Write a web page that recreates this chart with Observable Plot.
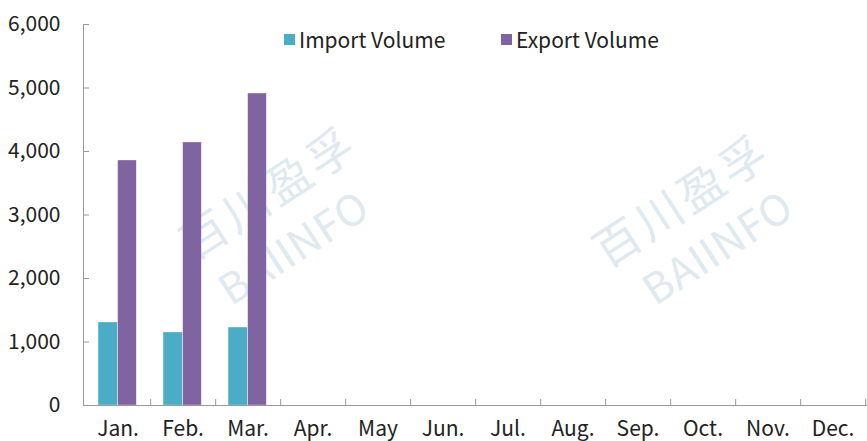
<!DOCTYPE html>
<html>
<head>
<meta charset="utf-8">
<script src="https://cdn.jsdelivr.net/npm/d3@7"></script>
<script src="https://cdn.jsdelivr.net/npm/@observablehq/plot@0.6"></script>
<style>
  html, body { margin: 0; padding: 0; background: #fff; }
  #wrap { position: relative; width: 867px; height: 441px; overflow: hidden; font-family: "Noto Sans CJK SC", "Noto Sans", sans-serif; }
  .legend { position: absolute; top: 24px; left: 0; font-size: 21px; color: #222; }
  .li { position: absolute; white-space: nowrap; display: flex; align-items: center; }
  .sw { width: 11px; height: 11px; display: inline-block; margin-right: 4px; }
  .wm { position: absolute; color: #dfe9f0; white-space: nowrap; transform-origin: center center; pointer-events: none; }
  #wrap svg { position: relative; }
</style>
</head>
<body>
<div id="wrap"></div>
<script>
const months = ["Jan.", "Feb.", "Mar.", "Apr.", "May", "Jun.", "Jul.", "Aug.", "Sep.", "Oct.", "Nov.", "Dec."];
const seriesNames = ["Import Volume", "Export Volume"];
const seriesColors = ["#4BACC6", "#8064A2"];
const importVolume = [1307, 1150, 1228];
const exportVolume = [3858, 4142, 4913];
const yTicks = [0, 1000, 2000, 3000, 4000, 5000, 6000];

const W = 867, H = 441;
const mL = 83, mR = 0;
const bw = (W - mL - mR) / months.length;

const importRows = importVolume.map((v, i) => ({month: months[i], value: v}));
const exportRows = exportVolume.map((v, i) => ({month: months[i], value: v}));

const font = "Noto Sans CJK SC, Noto Sans, sans-serif";

const chart = Plot.plot({
  width: W,
  height: H,
  marginLeft: mL,
  marginRight: mR,
  marginTop: 24,
  marginBottom: 36,
  style: {fontFamily: font, fontSize: "21px", color: "#222", background: "transparent"},
  x: {type: "band", domain: months, padding: 0, label: null},
  y: {domain: [0, 6000], label: null},
  marks: [
    Plot.barY(importRows, {x: "month", y: "value", fill: seriesColors[0], insetLeft: bw * 0.2, insetRight: bw * 0.5, stroke: "#ffffff", strokeOpacity: 0.5, strokeWidth: 0.6}),
    Plot.barY(exportRows, {x: "month", y: "value", fill: seriesColors[1], insetLeft: bw * 0.5, insetRight: bw * 0.21, stroke: "#ffffff", strokeOpacity: 0.5, strokeWidth: 0.6}),
    Plot.ruleY([0], {stroke: "#999"}),
    Plot.frame({anchor: "left", stroke: "#999"}),
    Plot.axisY({ticks: yTicks, tickSize: 6, dx: 6, stroke: "#999", tickFormat: () => "", label: null}),
    Plot.axisY({ticks: yTicks, tickFormat: d3.format(","), tickSize: 0, tickPadding: 23, fill: "#222", fontSize: 21, label: null}),
    Plot.axisX({tickSize: 6, dx: bw / 2, dy: -6, stroke: "#999", tickFormat: () => "", anchor: "bottom", label: null}),
    Plot.axisX({tickSize: 0, tickPadding: 16, fill: "#222", fontSize: 21, anchor: "bottom", label: null})
  ]
});

const wrap = document.getElementById("wrap");

// watermark
const wmTexts = [["百川盈孚", 46, 267, 190], ["BAIINFO", 42, 292, 245], ["百川盈孚", 46, 680, 198], ["BAIINFO", 42, 716, 245]];
wmTexts.forEach(([t, fs, cx, cy]) => {
  const d = document.createElement("div");
  d.className = "wm";
  d.textContent = t;
  d.style.fontSize = fs + "px";
  d.style.left = cx + "px";
  d.style.top = cy + "px";
  d.style.transform = "translate(-50%, -50%) rotate(-33deg)";
  d.style.letterSpacing = t === "BAIINFO" ? "1px" : "4px";
  wrap.appendChild(d);
});

wrap.appendChild(chart);

// legend
const legend = document.createElement("div");
legend.className = "legend";
const legendX = [284, 501];
seriesNames.forEach((name, i) => {
  const item = document.createElement("div");
  item.className = "li";
  item.style.left = legendX[i] + "px";
  const sw = document.createElement("span");
  sw.className = "sw";
  sw.style.background = seriesColors[i];
  item.appendChild(sw);
  item.appendChild(document.createTextNode(name));
  legend.appendChild(item);
});
wrap.appendChild(legend);
</script>
</body>
</html>
